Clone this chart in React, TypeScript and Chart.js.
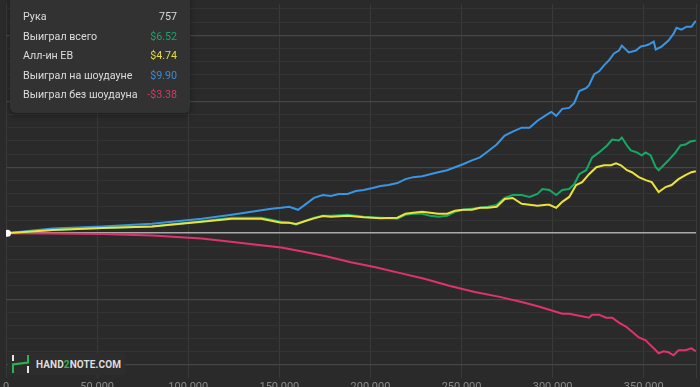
import React, { useEffect, useRef } from 'react';
import { Chart, registerables } from 'chart.js';
Chart.register(...registerables);

const BG = '#2a2a2a';

const xMax = 378700;
const xTickValues = [0, 50000, 100000, 150000, 200000, 250000, 300000, 350000];
const xTickLabels = ['0', '50 000', '100 000', '150 000', '200 000', '250 000', '300 000', '350 000'];
const yMin = -2195;
const yMax = 3475;
const yMinorStep = 200;
const yMajorStep = 1000;

const blueHands = [0, 25600, 52900, 80100, 107400, 123800, 134700, 145600, 151000, 155400, 160300, 164700, 169000, 173900, 178300, 182600, 187500, 191900, 196300, 201200, 205500, 209900, 214800, 219200, 223500, 228400, 232800, 237200, 242100, 246400, 250800, 255700, 260100, 264400, 269300, 273700, 278100, 283000, 287300, 291700, 296600, 299300, 302000, 305300, 309100, 311900, 314600, 318400, 320000, 322800, 325500, 328200, 330900, 333700, 336400, 338000, 341800, 345700, 348400, 351100, 352700, 355500, 356600, 359800, 363600, 366400, 368000, 370700, 373500, 376200, 378600];
const blueValues = [0, 70, 100, 145, 220, 280, 325, 370, 385, 400, 355, 445, 535, 580, 565, 595, 595, 640, 655, 685, 715, 730, 760, 820, 850, 865, 895, 925, 955, 1000, 1045, 1105, 1150, 1240, 1345, 1480, 1540, 1600, 1600, 1705, 1795, 1840, 1780, 1885, 1900, 1975, 2155, 2200, 2245, 2410, 2455, 2545, 2620, 2725, 2770, 2845, 2740, 2770, 2830, 2845, 2860, 2905, 2785, 2830, 2920, 3025, 3115, 3085, 3130, 3130, 3220];

const greenHands = [0, 25600, 52900, 80100, 107400, 123800, 140100, 151000, 155400, 159200, 164700, 169000, 173900, 178300, 187500, 196300, 205500, 214800, 219200, 223500, 228400, 232800, 237200, 242100, 246400, 250800, 255700, 260100, 264400, 269300, 273700, 278100, 283000, 287300, 291700, 294400, 298200, 302000, 305300, 309100, 311900, 314600, 318400, 321700, 325500, 329900, 332700, 336400, 338000, 340800, 342900, 346200, 348900, 351100, 353800, 356600, 358200, 360900, 363600, 367500, 370200, 372900, 375600, 378600];
const greenValues = [0, 50, 80, 100, 180, 235, 235, 175, 160, 130, 190, 235, 265, 265, 280, 250, 235, 220, 280, 295, 295, 265, 250, 265, 325, 355, 370, 385, 400, 430, 535, 580, 580, 550, 595, 670, 655, 580, 655, 670, 745, 895, 955, 1150, 1225, 1330, 1420, 1405, 1450, 1330, 1255, 1225, 1180, 1225, 1180, 1000, 955, 1030, 1105, 1225, 1330, 1345, 1390, 1405];

const yellowHands = [0, 25600, 52900, 80100, 107400, 123800, 140100, 151000, 155400, 159200, 164700, 169000, 173900, 178300, 187500, 196300, 205500, 214800, 219200, 223500, 228400, 232800, 237200, 242100, 246400, 250800, 255700, 260100, 264400, 269300, 273700, 278100, 283000, 287300, 291700, 296600, 298200, 302000, 305300, 309100, 312900, 316200, 320000, 324000, 328200, 332000, 334800, 337500, 340800, 343500, 347300, 351100, 354400, 358200, 362000, 365300, 369100, 372900, 376200, 378600];
const yellowValues = [0, 50, 80, 100, 175, 220, 220, 160, 160, 140, 190, 225, 260, 250, 265, 243, 228, 235, 295, 310, 325, 310, 295, 295, 340, 355, 355, 385, 385, 400, 520, 535, 445, 430, 415, 430, 430, 385, 475, 550, 730, 775, 895, 1000, 1030, 1030, 1060, 1030, 955, 925, 850, 805, 775, 625, 700, 730, 820, 880, 925, 940];

const redHands = [0, 25600, 52900, 80100, 107400, 122100, 136300, 151000, 161900, 175600, 189200, 202800, 216400, 230100, 243700, 257300, 271000, 284600, 292800, 298200, 305300, 309100, 314600, 320000, 321700, 325500, 329300, 332700, 336400, 340200, 343500, 347300, 351100, 352700, 355500, 358200, 360900, 363600, 366400, 369100, 372900, 376200, 378600];
const redValues = [0, -5, -12, -35, -80, -125, -170, -215, -275, -350, -440, -515, -605, -695, -800, -890, -965, -1055, -1115, -1160, -1220, -1220, -1250, -1280, -1235, -1235, -1280, -1280, -1355, -1415, -1490, -1580, -1625, -1670, -1745, -1820, -1790, -1805, -1850, -1775, -1775, -1745, -1790];

const hoverHand = [757];
const hoverValue = [0];

const tooltipLabels = ['Рука', 'Выиграл всего', 'Алл-ин EB', 'Выиграл на шоудауне', 'Выиграл без шоудауна'];
const tooltipValues = ['757', '$6.52', '$4.74', '$9.90', '-$3.38'];
const tooltipColors = ['#dcdcdc', '#1fa36c', '#e2dc3c', '#3b8bd6', '#cf3b6b'];

const BLUE = '#3a95e4';
const GREEN = '#16a865';
const YELLOW = '#ebe33c';
const RED = '#e0336e';

const pts = (xs: number[], ys: number[]) => xs.map((x, i) => ({ x, y: ys[i] }));

export default function App() {
  const ref = useRef<HTMLCanvasElement>(null);
  useEffect(() => {
    document.body.style.margin = '0';
    document.body.style.background = BG;
    const lineDs = (data: any[], color: string) => ({
      data,
      borderColor: color,
      backgroundColor: color,
      borderWidth: 2,
      pointRadius: 0,
      tension: 0,
      fill: false,
    });
    const yGrid: number[] = [];
    for (let v = Math.ceil(yMin / yMinorStep) * yMinorStep; v <= yMax; v += yMinorStep) yGrid.push(v);
    const chart = new Chart(ref.current!, {
      type: 'line',
      data: {
        datasets: [
          {
            data: pts(hoverHand, hoverValue),
            showLine: false,
            pointRadius: 3.5,
            pointBackgroundColor: '#ffffff',
            pointBorderColor: '#ffffff',
            pointBorderWidth: 0,
          } as any,
          lineDs(pts(yellowHands, yellowValues), YELLOW),
          lineDs(pts(greenHands, greenValues), GREEN),
          lineDs(pts(blueHands, blueValues), BLUE),
          lineDs(pts(redHands, redValues), RED),
        ],
      },
      options: {
        responsive: false,
        animation: false,
        devicePixelRatio: 1,
        layout: { padding: { left: 0, right: 2, top: 0, bottom: 0 } },
        plugins: { legend: { display: false }, tooltip: { enabled: false } },
        scales: {
          x: {
            type: 'linear',
            min: 0,
            max: xMax,
            afterBuildTicks: (s: any) => {
              s.ticks = [...xTickValues, xMax].map((value) => ({ value }));
            },
            afterFit: (s: any) => { s.height = 18; },
            border: { display: false },
            grid: { color: '#393939', drawTicks: false, lineWidth: 1 },
            ticks: {
              autoSkip: false,
              maxRotation: 0,
              padding: 3,
              color: '#8a8a8a',
              font: { size: 11, family: 'Roboto' },
              callback: (v: any) => {
                const i = xTickValues.indexOf(Number(v));
                return i >= 0 ? xTickLabels[i] : '';
              },
            },
          },
          y: {
            type: 'linear',
            min: yMin,
            max: yMax,
            afterBuildTicks: (s: any) => {
              s.ticks = yGrid.map((value) => ({ value }));
            },
            border: { display: false },
            grid: {
              drawTicks: false,
              color: (c: any) => {
                const v = c.tick ? c.tick.value : 1;
                if (v === 0) return '#a9a9a9';
                if (v % yMajorStep === 0) return '#464646';
                return '#343434';
              },
              lineWidth: (c: any) => {
                const v = c.tick ? c.tick.value : 1;
                if (v === 0) return 1.6;
                if (v % yMajorStep === 0) return 1.3;
                return 1;
              },
            },
            ticks: { display: false },
          },
        },
      } as any,
    });
    return () => chart.destroy();
  }, []);

  return (
    <div style={{ position: 'relative', width: 700, height: 387, overflow: 'hidden', background: BG }}>
      <canvas ref={ref} width={700} height={396} style={{ position: 'absolute', left: 0, top: 0, width: 700, height: 396 }} />
      <div
        style={{
          position: 'absolute', left: 10, top: -8, width: 180, boxSizing: 'border-box',
          background: '#323232', borderRadius: 6, padding: '15px 13px 8px 13px',
          boxShadow: '0 2px 6px rgba(0,0,0,0.35)', fontFamily: 'Roboto, sans-serif', fontSize: 10.7,
        }}
      >
        {tooltipLabels.map((l, i) => (
          <div key={i} style={{ display: 'flex', justifyContent: 'space-between', height: 19.5, lineHeight: '19.5px' }}>
            <span style={{ color: '#dcdcdc' }}>{l}</span>
            <span style={{ color: tooltipColors[i] }}>{tooltipValues[i]}</span>
          </div>
        ))}
      </div>
      <div
        style={{
          position: 'absolute', left: 8, top: 353, width: 117, height: 22, background: '#2d2d2d',
          display: 'flex', alignItems: 'center', fontFamily: 'Roboto, sans-serif',
        }}
      >
        <svg width={20} height={20} viewBox="0 0 20 20" style={{ marginLeft: 3 }}>
          <line x1={2} y1={1} x2={2} y2={7} stroke="#e6e6e6" strokeWidth={2} />
          <polyline points="2,19 2,10.5 17,8.5 17,1" fill="none" stroke="#2fb34c" strokeWidth={2} />
          <line x1={17} y1={12} x2={17} y2={19} stroke="#e6e6e6" strokeWidth={2} />
        </svg>
        <span style={{ marginLeft: 5, fontSize: 10, fontWeight: 700, color: '#dedede', letterSpacing: 0.1 }}>
          HAND<span style={{ color: '#2fb34c' }}>2</span>NOTE.COM
        </span>
      </div>
    </div>
  );
}
